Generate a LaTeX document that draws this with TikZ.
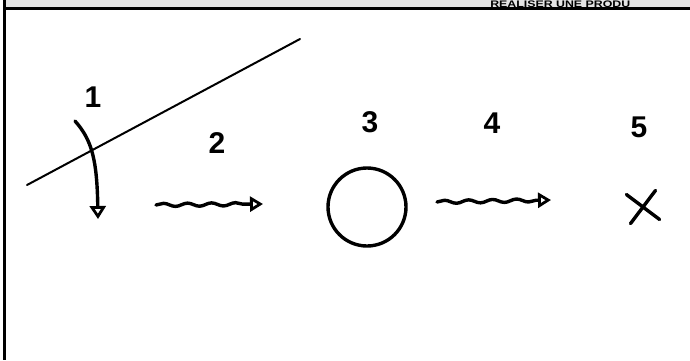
\documentclass[tikz,border=0pt]{standalone}
\usepackage{fontspec}
\setmainfont{Liberation Sans}
\usetikzlibrary{arrows.meta,decorations.pathmorphing,shapes.misc}
\definecolor{bandgray}{HTML}{E4E4E4}
\begin{document}
\begin{tikzpicture}[x=1pt,y=-1pt,
  ink/.style={line width=3.4pt,line cap=round,line join=round},
  thin ink/.style={line width=2pt,line cap=round},
  digit/.style={font=\bfseries\fontsize{30}{30}\selectfont,inner sep=0pt},
  wavy/.style={ink,decorate,decoration={snake,amplitude=1.6pt,segment length=24pt,post length=13pt},-{Triangle[open,length=13pt,width=15pt,line width=2.8pt]}},
  tip/.style={-{Triangle[open,length=13pt,width=16pt,line width=2.8pt]}}]
\useasboundingbox (0,0) rectangle (690,360);
\fill[bandgray] (5,0) rectangle (690,7.5);
\node[anchor=base west,font=\bfseries\fontsize{9.5}{9.5}\selectfont,inner sep=0pt,xscale=1.3] (title) at (490,7.2) {REALISER UNE PRODU};
\draw[line width=2.2pt] (4,8.5) -- (690,8.5);
\draw[line width=2.2pt] (4.5,0) -- (4.5,360);
% diagonal line
\coordinate (d1) at (27,185);
\coordinate (d2) at (300,39);
\draw[thin ink] (d1) -- (d2);
% labels
\node[digit] (l1) at (93,97) {1};
\node[digit] (l2) at (217,143) {2};
\node[digit] (l3) at (370,122) {3};
\node[digit] (l4) at (492,123) {4};
\node[digit] (l5) at (639,127) {5};
% curved arrow 1
\coordinate (a1s) at (75,121);
\coordinate (a1e) at (98,219);
\draw[ink,tip] (a1s) .. controls (92,140) and (97,160) .. (a1e);
% wavy arrow 2
\coordinate (a2s) at (156,205);
\coordinate (a2e) at (263,204);
\draw[wavy] (a2s) -- (a2e);
% circle 3
\node[draw,ink,circle,minimum width=78pt,inner sep=0pt] (c3) at (367,207) {};
% wavy arrow 4
\coordinate (a4s) at (437,202);
\coordinate (a4e) at (551,200);
\draw[wavy] (a4s) -- (a4e);
% cross 5
\node[draw,ink,cross out,minimum width=26pt,minimum height=26pt,inner sep=0pt,rotate=8] (x5) at (643,207) {};
\end{tikzpicture}
\end{document}
